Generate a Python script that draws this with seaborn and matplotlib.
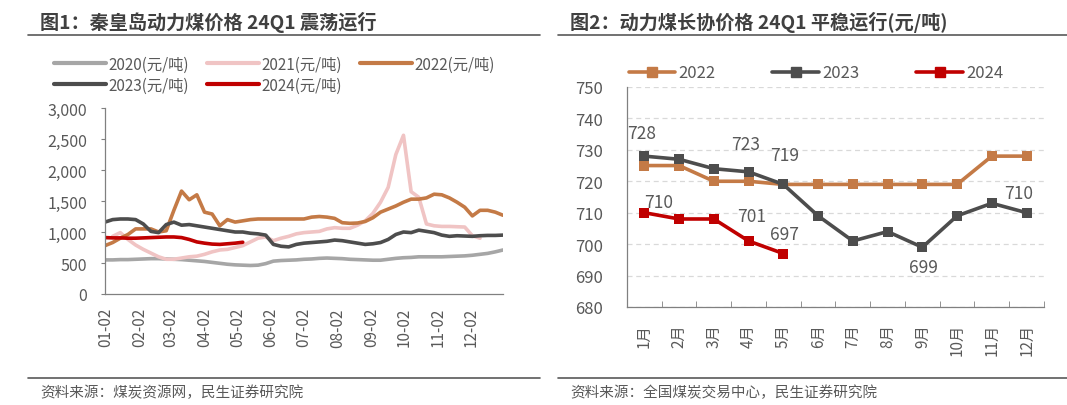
import matplotlib
matplotlib.use('Agg')
import matplotlib.pyplot as plt
from matplotlib.lines import Line2D
import numpy as np
import pandas as pd
import seaborn as sns

# Data: left chart, weekly prices (yuan/ton), week 0..52 of the year
weeks = list(range(53))
p2020 = [550, 550, 555, 555, 560, 565, 570, 570, 565, 560, 555, 545, 535, 525, 510, 495, 480, 470,
         465, 460, 465, 490, 530, 540, 545, 550, 560, 565, 575, 580, 575, 570, 560, 555, 550, 545,
         545, 560, 575, 585, 590, 600, 600, 600, 600, 605, 610, 615, 625, 640, 655, 680, 710]
p2021 = [None, 930, 990, 880, 790, 720, 660, 600, 560, 560, 580, 600, 610, 640, 680, 710, 720, 750,
         780, 840, 900, 920, 860, 900, 930, 970, 990, 1000, 1010, 1050, 1070, 1060, 1060, 1110, 1180,
         1300, 1480, 1720, 2250, 2560, 1650, 1560, 1130, 1100, 1090, 1090, 1085, 1080, 940, 900,
         None, None, None]
p2022 = [780, 830, 900, 960, 1050, 1050, 1050, 1000, 1020, 1350, 1660, 1520, 1600, 1320, 1290, 1100,
         1200, 1160, 1180, 1200, 1210, 1210, 1210, 1210, 1210, 1210, 1210, 1240, 1250, 1240, 1220,
         1150, 1140, 1145, 1170, 1230, 1320, 1370, 1420, 1480, 1530, 1530, 1550, 1610, 1600, 1550,
         1480, 1400, 1260, 1350, 1350, 1320, 1270]
p2023 = [1160, 1200, 1210, 1210, 1200, 1130, 1010, 990, 1120, 1160, 1110, 1120, 1100, 1080, 1060,
         1040, 1020, 1000, 1000, 980, 970, 950, 800, 770, 760, 800, 820, 830, 840, 850, 870, 860, 840,
         820, 800, 810, 830, 880, 960, 1000, 990, 1030, 1010, 990, 950, 930, 940, 935, 930, 940, 945,
         945, 950]
p2024 = [910, 905, 905, 900, 900, 905, 910, 915, 920, 920, 910, 880, 840, 820, 805, 800, 810, 820, 835]
month_days = [1, 32, 60, 91, 121, 152, 182, 213, 244, 274, 305, 335]
month_labels = ['01-02', '02-02', '03-02', '04-02', '05-02', '06-02',
                '07-02', '08-02', '09-02', '10-02', '11-02', '12-02']

# Data: right chart, monthly long-term contract price
months = ['1月', '2月', '3月', '4月', '5月', '6月', '7月', '8月', '9月', '10月', '11月', '12月']
c2022 = [725, 725, 720, 720, 719, 719, 719, 719, 719, 719, 728, 728]
c2023 = [728, 727, 724, 723, 719, 709, 701, 704, 699, 709, 713, 710]
c2024 = [710, 708, 708, 701, 697]

sns.set_style('white')
plt.rcParams['font.family'] = ['Noto Sans CJK SC', 'DejaVu Sans']
plt.rcParams['axes.unicode_minus'] = False

txt = '#595959'
colors1 = {'2020(元/吨)': '#A6A6A6', '2021(元/吨)': '#F0C4C4', '2022(元/吨)': '#C47A46',
           '2023(元/吨)': '#4D4D4D', '2024(元/吨)': '#C00000'}
colors2 = {'2022': '#C47A46', '2023': '#4D4D4D', '2024': '#C00000'}

fig = plt.figure(figsize=(10.67, 4.06), dpi=100)

# ---------------- left chart ----------------
rows = []
for name, vals in zip(colors1.keys(), [p2020, p2021, p2022, p2023, p2024]):
    for w, v in zip(weeks, vals):
        if v is not None:
            rows.append({'day': w * 7, 'value': v, 'series': name})
df1 = pd.DataFrame(rows)

ax1 = fig.add_axes([0.0984, 0.2734, 0.3730, 0.4581])
sns.lineplot(data=df1, x='day', y='value', hue='series', palette=colors1,
             linewidth=2.6, ax=ax1, legend=False)
ax1.set_xlim(0, 364)
ax1.set_ylim(0, 3000)
ax1.set_yticks(range(0, 3001, 500))
ax1.set_yticklabels([f'{v:,}' for v in range(0, 3001, 500)])
ax1.set_xticks(month_days)
ax1.set_xticklabels(month_labels, rotation=90)
ax1.set_xlabel('')
ax1.set_ylabel('')
for s in ['top', 'right']:
    ax1.spines[s].set_visible(False)
for s in ['left', 'bottom']:
    ax1.spines[s].set_color('#808080')
    ax1.spines[s].set_linewidth(0.9)
ax1.tick_params(axis='y', left=True, length=3, color='#808080', labelsize=11.5, labelcolor=txt, pad=10)
ax1.tick_params(axis='x', bottom=False, labelsize=11, labelcolor=txt, pad=6)

order = ['2020(元/吨)', '2023(元/吨)', '2021(元/吨)', '2024(元/吨)', '2022(元/吨)']
handles = [Line2D([], [], color=colors1[k], linewidth=3) for k in order]
leg1 = ax1.legend(handles, order, ncol=3, loc='lower left', bbox_to_anchor=(-0.155, 1.02),
                  frameon=False, fontsize=11, handlelength=3.4, handletextpad=0.15,
                  columnspacing=1.2, labelspacing=0.25, borderaxespad=0.3)
for t in leg1.get_texts():
    t.set_color(txt)

# ---------------- right chart ----------------
rows = []
for name, vals in zip(colors2.keys(), [c2022, c2023, c2024]):
    for i, v in enumerate(vals):
        rows.append({'month': i, 'value': v, 'series': name})
df2 = pd.DataFrame(rows)

ax2 = fig.add_axes([0.5876, 0.2414, 0.3908, 0.5419])
ax2.yaxis.grid(True, linestyle=(0, (4, 3)), color='#D9D9D9', linewidth=0.9)
ax2.set_axisbelow(True)
sns.lineplot(data=df2, x='month', y='value', hue='series', palette=colors2,
             linewidth=2.6, marker='s', markersize=7, markeredgewidth=0, ax=ax2, legend=False)
ax2.set_xlim(-0.5, 11.5)
ax2.set_ylim(680, 750)
ax2.set_yticks(range(680, 751, 10))
ax2.set_xticks(range(12))
ax2.set_xticklabels(months, rotation=90)
ax2.set_xticks(np.arange(-0.5, 12, 1), minor=True)
ax2.set_xlabel('')
ax2.set_ylabel('')
for s in ['top', 'right']:
    ax2.spines[s].set_visible(False)
for s in ['left', 'bottom']:
    ax2.spines[s].set_color('#808080')
    ax2.spines[s].set_linewidth(0.9)
ax2.tick_params(axis='y', left=False, labelsize=12, labelcolor=txt, pad=14)
ax2.tick_params(axis='x', which='major', bottom=False, labelsize=11, labelcolor=txt, pad=8)
ax2.tick_params(axis='x', which='minor', bottom=True, direction='in', length=4, color='#808080')

handles2 = [Line2D([], [], color=colors2[k], linewidth=2.6, marker='s', markersize=7) for k in colors2]
leg2 = ax2.legend(handles2, list(colors2.keys()), ncol=3, loc='lower left',
                  bbox_to_anchor=(-0.02, 0.98), frameon=False, fontsize=12,
                  handlelength=2.8, handletextpad=0.2, columnspacing=3.4, borderaxespad=0.2)
for t in leg2.get_texts():
    t.set_color(txt)

# data labels (offsets in points)
labels = [(0, c2023[0], -2, 17), (3, c2023[3], -2, 20), (4, c2023[4], 1, 21),
          (8, c2023[8], 1, -14), (11, c2023[11], -6, 14),
          (0, c2024[0], 10, 8), (3, c2024[3], 2, 18), (4, c2024[4], 1, 14)]
for i, v, dx, dy in labels:
    ax2.annotate(str(v), (i, v), xytext=(dx, dy), textcoords='offset points',
                 ha='center', va='center', fontsize=12.5, color=txt)

# ---------------- titles, rules and sources ----------------
title_c = '#404040'
fig.text(40 / 1067, 1 - 22 / 406, '图1：秦皇岛动力煤价格 24Q1 震荡运行', fontsize=13.8,
         fontweight='bold', color=title_c, va='center', ha='left')
fig.text(570 / 1067, 1 - 22 / 406, '图2：动力煤长协价格 24Q1 平稳运行(元/吨)', fontsize=13.8,
         fontweight='bold', color=title_c, va='center', ha='left')
for x0, x1 in [(28, 540), (558, 1067)]:
    fig.add_artist(Line2D([x0 / 1067, x1 / 1067], [1 - 36 / 406] * 2, color='#595959', linewidth=1.2))
    fig.add_artist(Line2D([x0 / 1067, x1 / 1067], [1 - 378.5 / 406] * 2, color='#595959', linewidth=1.2))
fig.text(40 / 1067, 1 - 393 / 406, '资料来源：煤炭资源网，民生证券研究院', fontsize=10.5,
         color=txt, va='center', ha='left')
fig.text(570 / 1067, 1 - 393 / 406, '资料来源：全国煤炭交易中心，民生证券研究院', fontsize=10.5,
         color=txt, va='center', ha='left')

fig.savefig('out.png', dpi=100)
